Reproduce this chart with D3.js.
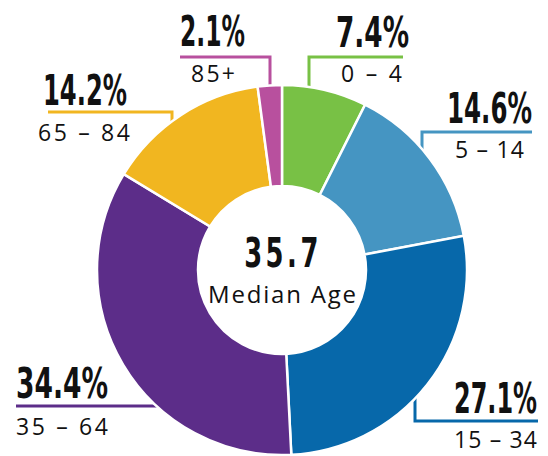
<!DOCTYPE html>
<html>
<head>
<meta charset="utf-8">
<script src="https://cdn.jsdelivr.net/npm/d3@7"></script>
<style>
  html, body { margin: 0; padding: 0; background: #fff; }
  svg { display: block; }
</style>
</head>
<body>
<svg id="chart" width="548" height="456"></svg>
<script>
// ---- data ----
const categories = ["0 – 4", "5 – 14", "15 – 34", "35 – 64", "65 – 84", "85+"];
const values = [7.4, 14.6, 27.1, 34.4, 14.2, 2.1];
const colors = ["#78c145", "#4595c2", "#0768aa", "#5c2d89", "#f1b620", "#b8509e"];
const centerValue = "35.7";
const centerLabel = "Median Age";

// ---- layout ----
const cx = 282, cy = 270, R = 185, r = 84;

const layout = [
  { vx: 309, hy: 57,  ex: 403, anchor: "end",   px: 409, py: 47,  pw: 73, sx: 402, sy: 82,  sw: 61 },
  { vx: 422, hy: 132, ex: 532, anchor: "end",   px: 532, py: 123, pw: 85, sx: 524, sy: 158, sw: 69 },
  { vx: 415, hy: 421, ex: 538, anchor: "end",   px: 537, py: 413, pw: 83, sx: 537, sy: 448, sw: 83 },
  { vx: null, hy: 406, ex: 16, anchor: "start", px: 16,  py: 398, pw: 92, sx: 16,  sy: 435, sw: 92 },
  { vx: 172, hy: 112, ex: 48,  anchor: "start", px: 43,  py: 105, pw: 84, sx: 38,  sy: 141, sw: 92 },
  { vx: 270, hy: 57,  ex: 180, anchor: "start", px: 180, py: 46,  pw: 65, sx: 191, sy: 82,  sw: 44 }
];

const svg = d3.select("#chart");
const pie = d3.pie().sort(null).value(d => d).startAngle(0).endAngle(2 * Math.PI);
const arcs = pie(values);
const arc = d3.arc().innerRadius(r).outerRadius(R);
const fmt = v => d3.format(".1f")(v) + "%";

// leader lines (under the pie)
const lines = svg.append("g");
arcs.forEach((a, i) => {
  const L = layout[i];
  let pts;
  if (L.vx !== null) {
    const dy = Math.sqrt(R * R - (L.vx - cx) ** 2);
    const yEdge = L.hy < cy ? cy - dy + 5 : cy + dy - 5;
    pts = [[L.vx, yEdge], [L.vx, L.hy], [L.ex, L.hy]];
  } else {
    const dx = Math.sqrt(R * R - (L.hy - cy) ** 2);
    const xEdge = L.ex < cx ? cx - dx + 5 : cx + dx - 5;
    pts = [[xEdge, L.hy], [L.ex, L.hy]];
  }
  lines.append("path")
    .attr("d", d3.line()(pts))
    .attr("fill", "none")
    .attr("stroke", colors[i])
    .attr("stroke-width", 3);
});

// donut
svg.append("g")
  .attr("transform", `translate(${cx},${cy})`)
  .selectAll("path")
  .data(arcs)
  .join("path")
  .attr("d", arc)
  .attr("fill", (d, i) => colors[i])
  .attr("stroke", "#fff")
  .attr("stroke-width", 2.5);

// labels
const lab = svg.append("g");
arcs.forEach((a, i) => {
  const L = layout[i];
  const g = lab.append("g");
  const t = g.append("text")
    .attr("x", 0).attr("y", 0)
    .attr("text-anchor", L.anchor)
    .attr("font-family", "'Liberation Sans Narrow', 'DejaVu Sans Condensed', sans-serif")
    .attr("font-weight", "bold")
    .attr("font-size", 42)
    .attr("fill", "#111")
    .text(fmt(values[i]));
  const natural = t.node().getComputedTextLength() || L.pw;
  g.attr("transform", `translate(${L.px},${L.py}) scale(${L.pw / natural},1)`);
  lab.append("text")
    .attr("x", L.sx).attr("y", L.sy)
    .attr("text-anchor", L.anchor)
    .attr("font-family", "'Open Sans', Lato, sans-serif")
    .attr("font-size", 23)
    .attr("fill", "#111")
    .attr("textLength", L.sw)
    .attr("lengthAdjust", "spacing")
    .text(categories[i]);
});

// center
svg.append("g")
  .attr("transform", "translate(283,267) scale(0.7,1)")
  .append("text")
  .attr("x", 0).attr("y", 0)
  .attr("text-anchor", "middle")
  .attr("font-family", "'DejaVu Sans Condensed', 'Liberation Sans Narrow', sans-serif")
  .attr("font-weight", "bold")
  .attr("font-size", 41)
  .attr("letter-spacing", 5)
  .attr("fill", "#111")
  .text(centerValue);
svg.append("text")
  .attr("x", 282).attr("y", 303)
  .attr("text-anchor", "middle")
  .attr("font-family", "'Open Sans', Lato, sans-serif")
  .attr("font-size", 24)
  .attr("fill", "#111")
  .attr("textLength", 148)
  .attr("lengthAdjust", "spacing")
  .text(centerLabel);
</script>
</body>
</html>
